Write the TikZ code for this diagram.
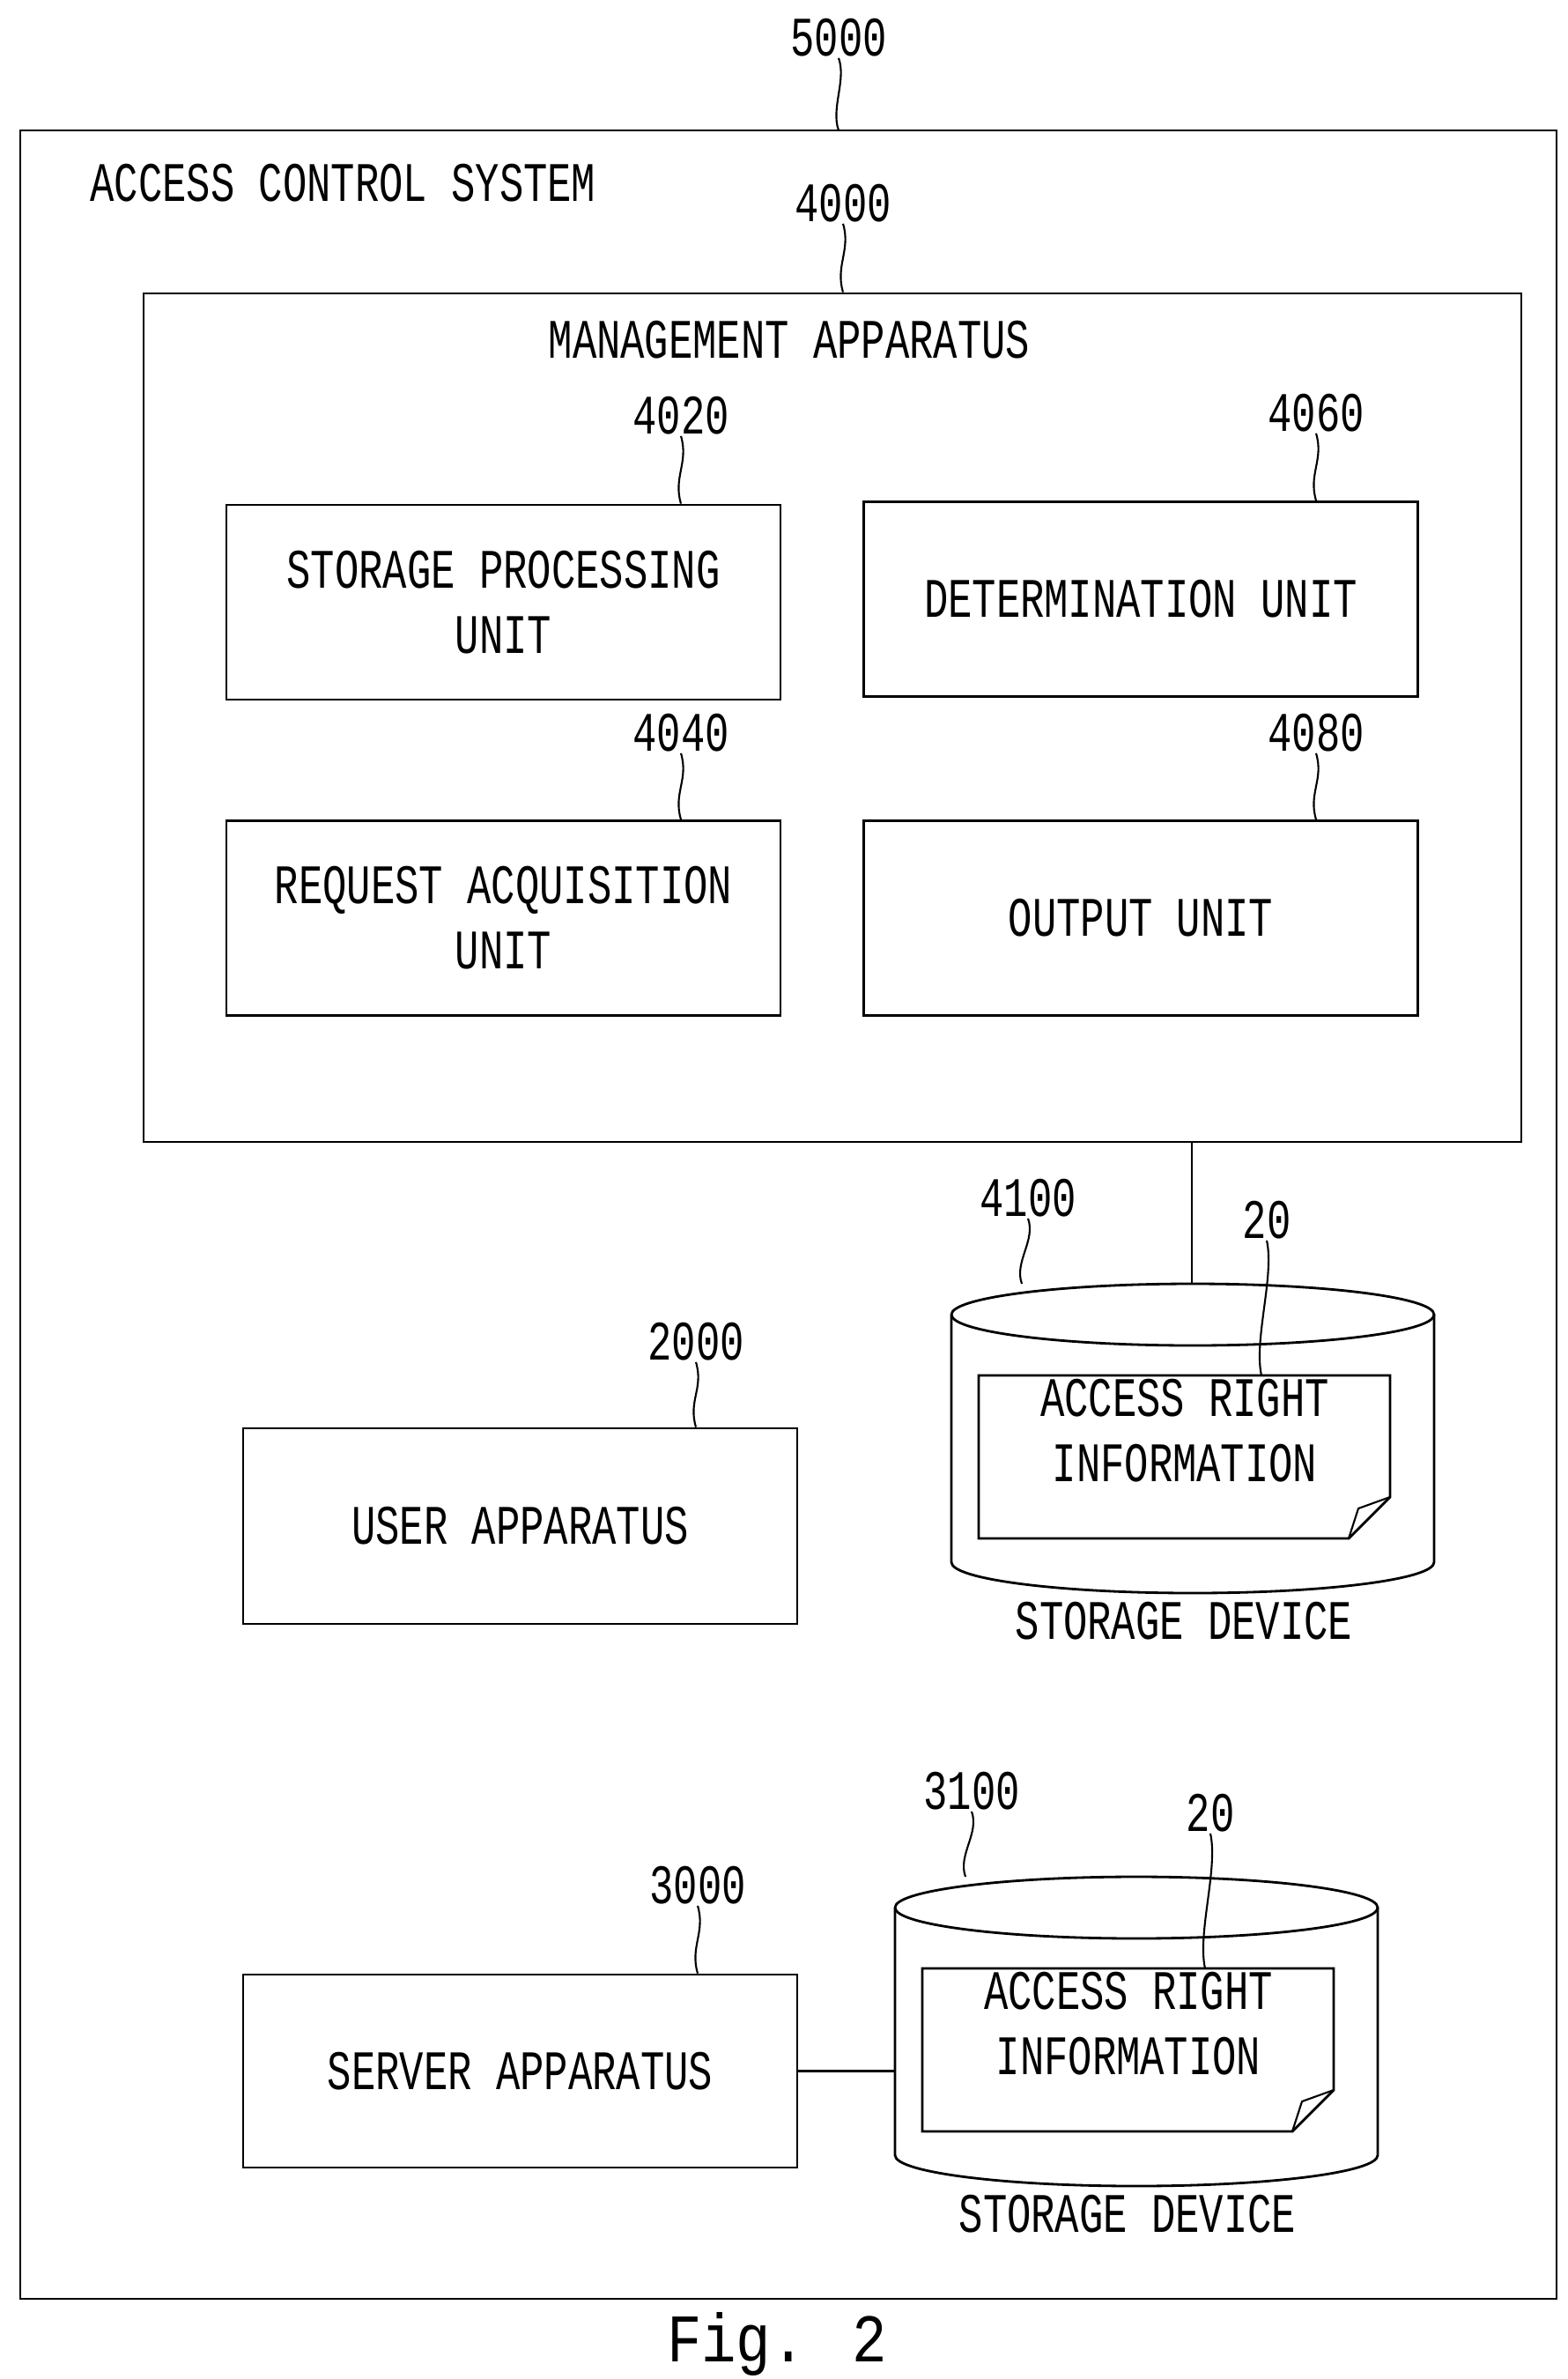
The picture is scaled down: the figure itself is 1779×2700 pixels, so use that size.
\documentclass[tikz,border=0pt]{standalone}
\usepackage{fontspec}
\newfontfamily\pf[FakeStretch=0.72]{Liberation Mono}
\newfontfamily\ff[FakeStretch=0.85]{Liberation Mono}
\begin{document}
\begin{tikzpicture}[x=0.1mm,y=-0.1mm,line width=0.8pt,
  box/.style={draw,minimum width=62.9mm,minimum height=22.1mm,align=center,font=\pf\fontsize{18}{21}\selectfont,inner sep=0pt},
  txt/.style={font=\pf\fontsize{18}{21}\selectfont,inner sep=0pt,align=center},
  sq/.style={line width=0.6pt}]
\useasboundingbox (0,0) rectangle (1779,2700);
% outer
\node[draw,minimum width=174.4mm,minimum height=246.1mm,inner sep=0pt] (outer) at (895,1378.5) {};
\node[txt] (l5000) at (952,43) {5000};
\draw[sq] (l5000.south) .. controls ++(9,25) and ++(-9,-25) .. (952,148);
\node[txt,anchor=west] (acs) at (101,208) {ACCESS CONTROL SYSTEM};
% management
\node[draw,minimum width=156.4mm,minimum height=96.3mm,inner sep=0pt] (mgmt) at (945,814.5) {};
\node[txt] (l4000) at (957,231) {4000};
\draw[sq] (l4000.south) .. controls ++(9,30) and ++(-9,-30) .. (mgmt.north -| l4000);
\node[txt] (mgt) at (896,386) {MANAGEMENT APPARATUS};
\node[box] (sp) at (571.5,683.5) {STORAGE PROCESSING\\UNIT};
\node[box] (det) at (1295,680) {DETERMINATION UNIT};
\node[box] (req) at (571.5,1042) {REQUEST ACQUISITION\\UNIT};
\node[box] (out) at (1295,1042) {OUTPUT UNIT};
\node[txt] (l4020) at (773,472) {4020};
\draw[sq] (l4020.south) .. controls ++(9,30) and ++(-9,-30) .. (sp.north -| l4020);
\node[txt] (l4060) at (1494,469) {4060};
\draw[sq] (l4060.south) .. controls ++(9,30) and ++(-9,-30) .. (det.north -| l4060);
\node[txt] (l4040) at (773,832) {4040};
\draw[sq] (l4040.south) .. controls ++(9,30) and ++(-9,-30) .. (req.north -| l4040);
\node[txt] (l4080) at (1494,832) {4080};
\draw[sq] (l4080.south) .. controls ++(9,30) and ++(-9,-30) .. (out.north -| l4080);
% storage 4100
\begin{scope}
\coordinate (c1top) at (1353,1457);
\draw (1080,1492) arc[x radius=274,y radius=35,start angle=180,end angle=-180];
\draw (1080,1492) -- (1080,1773) arc[x radius=274,y radius=35,start angle=180,end angle=0] -- (1628,1492);
\draw (c1top |- mgmt.south) -- (c1top);
\draw (1111,1561) -- (1578,1561) -- (1578,1699) -- (1531,1746) -- (1111,1746) -- cycle;
\draw[line width=0.6pt] (1578,1699) -- (1542,1712) -- (1531,1746);
\node[txt] (doc1) at (1345,1624) {ACCESS RIGHT\\INFORMATION};
\node[txt] (l4100) at (1167,1360) {4100};
\draw[sq] (l4100.south) .. controls ++(9,25) and ++(-9,-25) .. (1160,1457);
\node[txt] (l20a) at (1438,1385) {20};
\draw[sq] (l20a.south) .. controls ++(9,40) and ++(-9,-40) .. (1432,1561);
\node[txt] (sd1) at (1344,1840) {STORAGE DEVICE};
\end{scope}
% user
\node[box,minimum height=22.2mm] (user) at (590.5,1732) {USER APPARATUS};
\node[txt] (l2000) at (790,1523) {2000};
\draw[sq] (l2000.south) .. controls ++(9,30) and ++(-9,-30) .. (user.north -| l2000);
% server
\node[box,minimum height=21.9mm] (server) at (590.5,2350.5) {SERVER APPARATUS};
\node[txt] (l3000) at (792,2140) {3000};
\draw[sq] (l3000.south) .. controls ++(9,30) and ++(-9,-30) .. (server.north -| l3000);
% storage 3100
\begin{scope}[shift={(-64,673)}]
\draw (1080,1492) arc[x radius=274,y radius=35,start angle=180,end angle=-180];
\draw (1080,1492) -- (1080,1773) arc[x radius=274,y radius=35,start angle=180,end angle=0] -- (1628,1492);
\coordinate (c2left) at (1080,1681);
\draw (1111,1561) -- (1578,1561) -- (1578,1699) -- (1531,1746) -- (1111,1746) -- cycle;
\draw[line width=0.6pt] (1578,1699) -- (1542,1712) -- (1531,1746);
\node[txt] (doc2) at (1345,1624) {ACCESS RIGHT\\INFORMATION};
\node[txt] (l3100) at (1167,1360) {3100};
\draw[sq] (l3100.south) .. controls ++(9,25) and ++(-9,-25) .. (1160,1457);
\node[txt] (l20b) at (1438,1385) {20};
\draw[sq] (l20b.south) .. controls ++(9,40) and ++(-9,-40) .. (1432,1561);
\node[txt] (sd2) at (1344,1840) {STORAGE DEVICE};
\end{scope}
\draw (server.east) -- (server.east -| c2left);
\node[font=\ff\fontsize{22}{26}\selectfont,inner sep=0pt] (fig) at (882,2660) {Fig. 2};
\end{tikzpicture}
\end{document}
